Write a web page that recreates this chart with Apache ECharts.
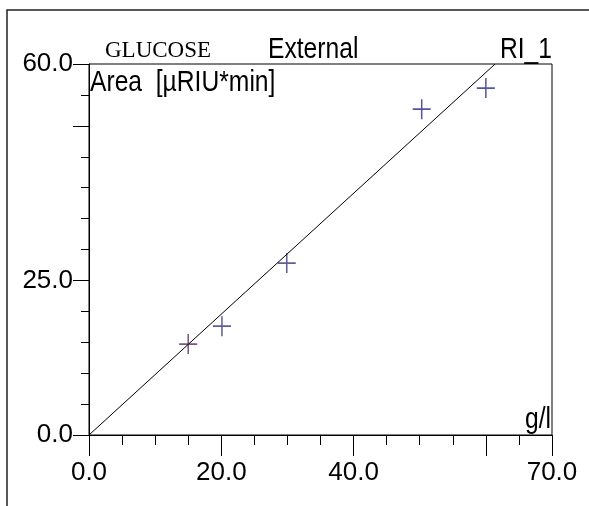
<!DOCTYPE html>
<html>
<head>
<meta charset="utf-8">
<script src="https://cdn.jsdelivr.net/npm/echarts@6/dist/echarts.min.js"></script>
<style>
html,body{margin:0;padding:0;background:#fff;}
#chart{width:589px;height:506px;}
</style>
</head>
<body>
<div id="chart"></div>
<script>
// Data
var concentration = [15.0, 20.1, 29.9, 50.3, 60.0];      // g/l
var area = [14.7, 17.6, 27.8, 52.7, 56.1];               // µRIU*min
var pointColors = ['#5a2a66', '#36367e', '#36367e', '#2c2c86', '#2c2c86'];
var fitLine = [[0, 0], [61.4, 60]];                       // calibration line
var xLabelValues = [0, 20, 40, 70];
var xMajorTicks = [0, 20, 40, 60, 70];
var yLabelValues = [0, 25, 60];
var yMajorTicks = [0, 25, 50, 60];

var FONT = '"Liberation Sans", Arial, sans-serif';

var chart = echarts.init(document.getElementById('chart'), null, {renderer: 'canvas'});

var points = concentration.map(function (x, i) {
  return {value: [x, area[i]], itemStyle: {borderColor: pointColors[i]}};
});

var option = {
  animation: false,
  backgroundColor: '#fff',
  grid: {left: 89, top: 64, right: 37, bottom: 71, show: true, borderColor: '#000', borderWidth: 1, backgroundColor: 'transparent'},
  xAxis: [{
    type: 'value', min: 0, max: 70, interval: 5, position: 'bottom',
    splitLine: {show: false},
    axisLine: {lineStyle: {color: '#000', width: 1}},
    axisTick: {length: 10, lineStyle: {color: '#000', width: 1}},
    axisLabel: {customValues: xLabelValues, margin: 25, color: '#000', fontFamily: FONT, fontSize: 26,
      formatter: function (v) { return v.toFixed(1); }}
  }, {
    type: 'value', min: 0, max: 70, position: 'bottom', offset: 0,
    splitLine: {show: false},
    axisLine: {show: false},
    axisTick: {customValues: xMajorTicks, length: 21, lineStyle: {color: '#000', width: 1}},
    axisLabel: {show: false}
  }],
  yAxis: [{
    type: 'value', min: 0, max: 60, interval: 5, position: 'left',
    splitLine: {show: false},
    axisLine: {show: true, lineStyle: {color: '#000', width: 1}},
    axisTick: {show: true, length: 8, lineStyle: {color: '#000', width: 1}},
    axisLabel: {customValues: yLabelValues, margin: 16, color: '#000', fontFamily: FONT, fontSize: 26,
      formatter: function (v) { return v.toFixed(1); }}
  }, {
    type: 'value', min: 0, max: 60, position: 'left', offset: 0,
    splitLine: {show: false},
    axisLine: {show: false},
    axisTick: {show: true, customValues: yMajorTicks, length: 16, lineStyle: {color: '#000', width: 1}},
    axisLabel: {show: false}
  }],
  series: [{
    type: 'line',
    data: fitLine,
    symbol: 'none',
    clip: true,
    lineStyle: {color: '#000', width: 1}
  }, {
    type: 'scatter',
    data: points,
    symbol: 'path://M0,-10 L0,10 M-9,0 L9,0',
    symbolSize: [18, 20],
    itemStyle: {color: 'transparent', borderWidth: 1.6}
  }],
  graphic: [
    {type: 'rect', shape: {x: 7, y: 10, width: 700, height: 600}, style: {fill: 'none', stroke: '#222', lineWidth: 1.5}, silent: true},
    {type: 'text', x: 105, y: 51, style: {text: 'GLUCOSE', font: '23px "Liberation Serif", "Times New Roman", serif', fill: '#000', verticalAlign: 'middle', align: 'left'}},
    {type: 'text', x: 268, y: 50, scaleX: 0.85, style: {text: 'External', font: '29px ' + FONT, fill: '#000', verticalAlign: 'middle', align: 'left'}},
    {type: 'text', x: 552, y: 50, scaleX: 0.85, style: {text: 'RI_1', font: '29px ' + FONT, fill: '#000', verticalAlign: 'middle', align: 'right'}},
    {type: 'text', x: 90, y: 83, scaleX: 0.85, style: {text: 'Area  [µRIU*min]', font: '29px ' + FONT, fill: '#000', verticalAlign: 'middle', align: 'left'}},
    {type: 'text', x: 551, y: 420, scaleX: 0.85, style: {text: 'g/l', font: '29px ' + FONT, fill: '#000', verticalAlign: 'middle', align: 'right'}}
  ]
};
chart.setOption(option);
</script>
</body>
</html>
